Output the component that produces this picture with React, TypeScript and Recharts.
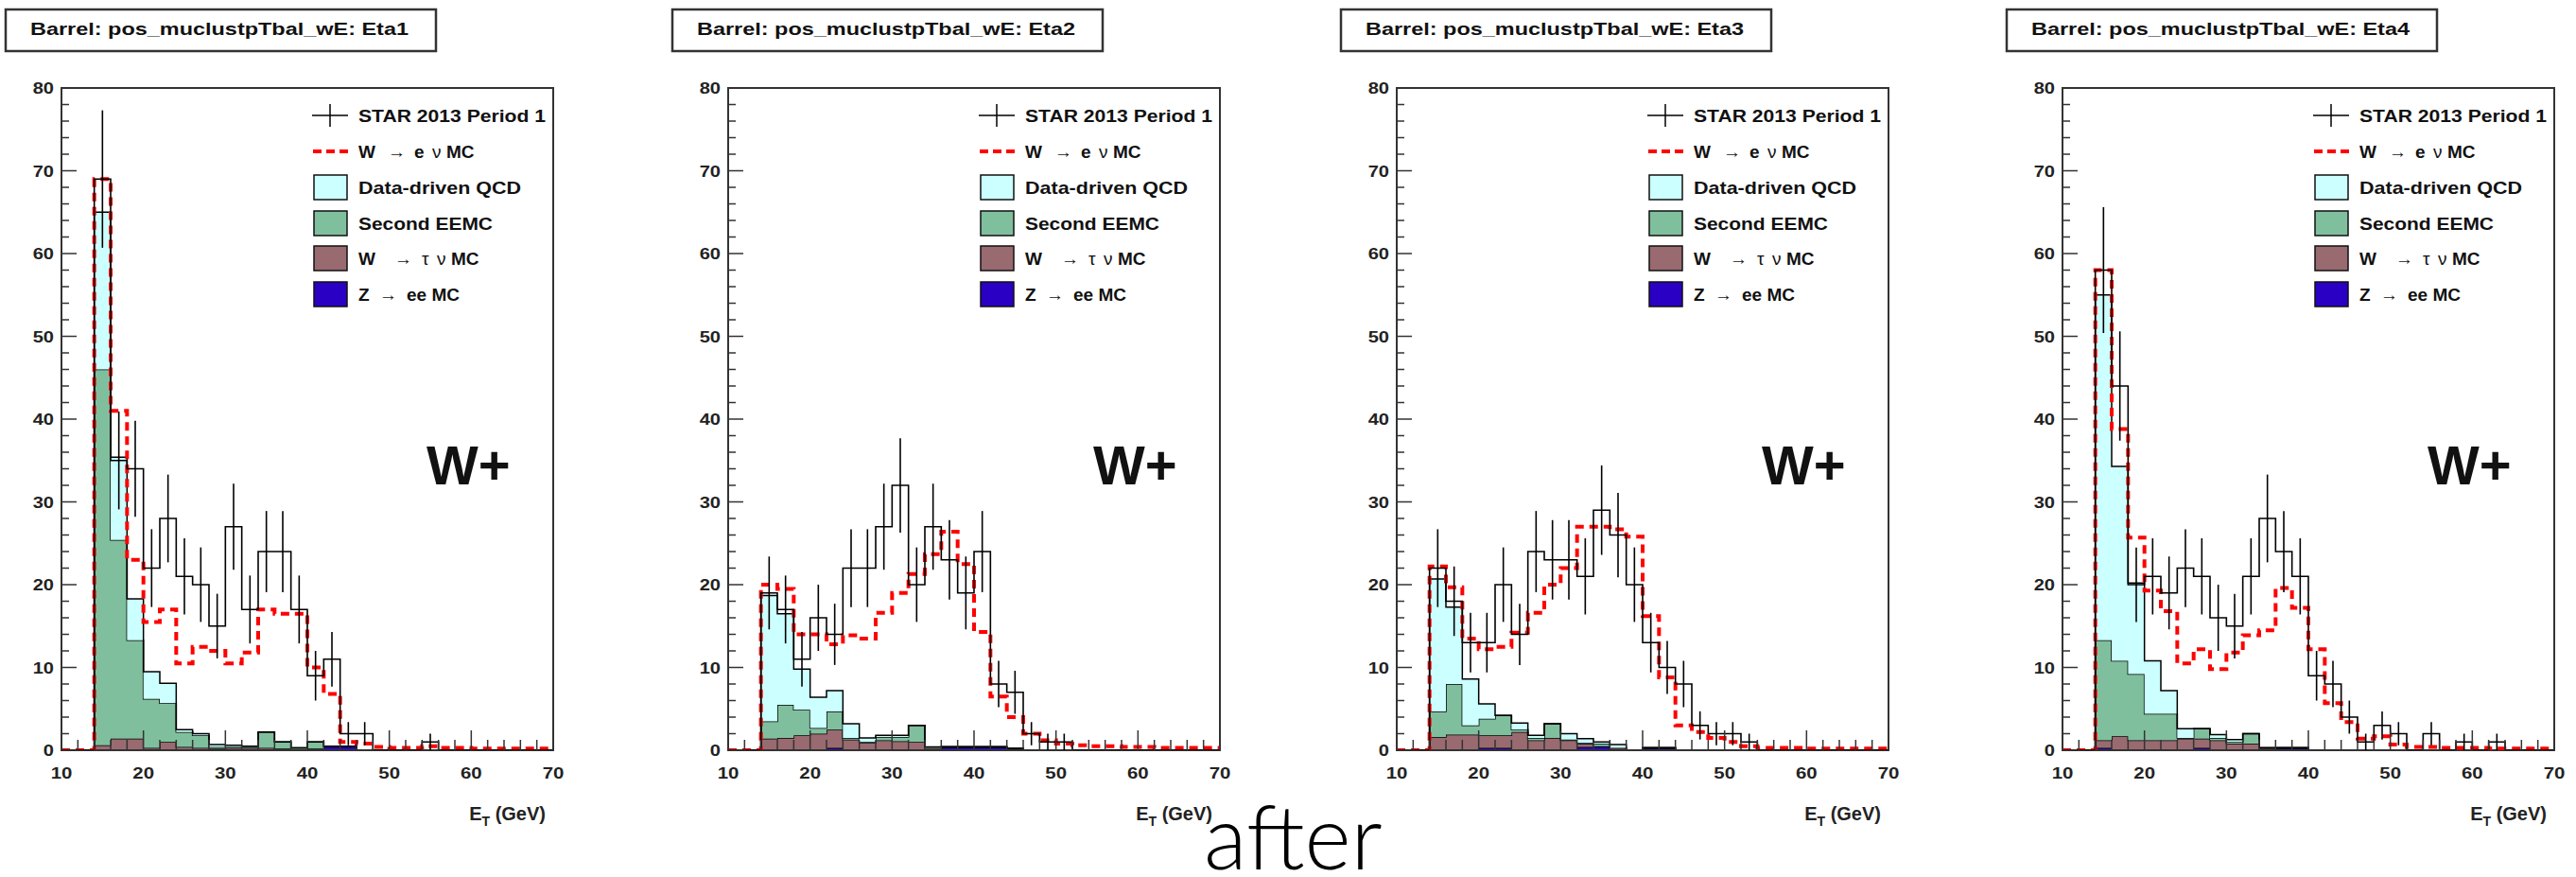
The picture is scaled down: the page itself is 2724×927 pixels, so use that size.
import React from "react";
import {
  ComposedChart,
  Area,
  Line,
  Scatter,
  ErrorBar,
  XAxis,
  YAxis,
  ReferenceArea,
} from "recharts";

// bins are 2 GeV wide, lower edges
const binLow = [10, 12, 14, 16, 18, 20, 22, 24, 26, 28, 30, 32, 34, 36, 38, 40, 42, 44, 46, 48, 50, 52, 54, 56, 58, 60, 62, 64, 66, 68];
const xTicks = [10, 12, 14, 16, 18, 20, 22, 24, 26, 28, 30, 32, 34, 36, 38, 40, 42, 44, 46, 48, 50, 52, 54, 56, 58, 60, 62, 64, 66, 68, 70];
const yTicks = [0, 2, 4, 6, 8, 10, 12, 14, 16, 18, 20, 22, 24, 26, 28, 30, 32, 34, 36, 38, 40, 42, 44, 46, 48, 50, 52, 54, 56, 58, 60, 62, 64, 66, 68, 70, 72, 74, 76, 78, 80];

// Eta1
const data1 = [0, 0, 69, 35, 34, 22, 28, 21, 20, 15, 27, 17, 24, 24, 17, 9, 11, 2, 2, 0, 0, 0, 1, 0, 0, 0, 0, 0, 0, 0];
const err1 = [0, 0, 8.3, 5.9, 5.8, 4.7, 5.3, 4.6, 4.5, 3.9, 5.2, 4.1, 4.9, 4.9, 4.1, 3, 3.3, 1.4, 1.4, 0, 0, 0, 1, 0, 0, 0, 0, 0, 0, 0];
const wenu1 = [0, 0, 69, 41, 23, 15.5, 17, 10.5, 12.5, 12, 10.5, 11.8, 17, 16.5, 16.5, 10, 6.8, 1, 0.8, 0.4, 0.3, 0.3, 0.5, 0.3, 0.3, 0.2, 0.2, 0.2, 0.2, 0.2];
const qcd1 = [0, 0, 19, 10, 5, 3.3, 2.4, 0.3, 0.2, 0.3, 0.2, 0.1, 0, 0, 0, 0, 0, 0, 0, 0, 0, 0, 0, 0, 0, 0, 0, 0, 0, 0];
const eemc1 = [0, 0, 45.4, 24, 11.9, 5.9, 4.7, 1.8, 1.5, 0.2, 0.1, 0.1, 1.9, 0.8, 0.2, 0.8, 0, 0, 0, 0, 0, 0, 0, 0, 0, 0, 0, 0, 0, 0];
const wtau1 = [0, 0, 0.6, 1.4, 1.4, 0.3, 1.0, 0.4, 0.3, 0.2, 0.2, 0.2, 0.3, 0.2, 0.1, 0.2, 0, 0, 0, 0, 0, 0, 0, 0, 0, 0, 0, 0, 0, 0];
const zee1 = [0, 0, 0, 0, 0, 0, 0, 0, 0, 0, 0.1, 0.1, 0, 0, 0, 0, 0.5, 0.5, 0, 0, 0, 0, 0, 0, 0, 0, 0, 0, 0, 0];

// Eta2
const data2 = [0, 0, 19, 17, 11, 16, 14, 22, 22, 27, 32, 20, 27, 23, 19, 24, 8, 7, 2, 1, 1, 0, 0, 0, 0, 0, 0, 0, 0, 0];
const err2 = [0, 0, 4.4, 4.1, 3.3, 4, 3.7, 4.7, 4.7, 5.2, 5.7, 4.5, 5.2, 4.8, 4.4, 4.9, 2.8, 2.6, 1.4, 1, 1, 0, 0, 0, 0, 0, 0, 0, 0, 0];
const wenu2 = [0, 0, 20, 19.5, 14, 14, 12.8, 13.9, 13.5, 16.6, 19, 21.3, 23.7, 26.4, 22.5, 14.3, 6.5, 4, 2, 1.2, 0.8, 0.6, 0.5, 0.5, 0.4, 0.4, 0.3, 0.3, 0.3, 0.3];
const qcd2 = [0, 0, 15.2, 11, 4.9, 3.7, 2.5, 1.7, 0.5, 0.2, 0.2, 0, 0.1, 0, 0, 0, 0, 0, 0, 0, 0, 0, 0, 0, 0, 0, 0, 0, 0, 0];
const eemc2 = [0, 0, 2.1, 4.0, 3.1, 0.7, 2.2, 0.2, 0.1, 0.4, 0.5, 2.0, 0, 0, 0, 0, 0, 0, 0, 0, 0, 0, 0, 0, 0, 0, 0, 0, 0, 0];
const wtau2 = [0, 0, 1.4, 1.5, 1.8, 2.0, 2.2, 1.3, 0.9, 1.2, 1.1, 1.0, 0.3, 0, 0, 0, 0, 0, 0, 0, 0, 0, 0, 0, 0, 0, 0, 0, 0, 0];
const zee2 = [0, 0, 0, 0, 0, 0, 0.3, 0, 0, 0, 0, 0, 0, 0.4, 0.4, 0.4, 0.4, 0.2, 0, 0, 0, 0, 0, 0, 0, 0, 0, 0, 0, 0];

// Eta3
const data3 = [0, 0, 22, 18, 13, 13, 20, 14, 24, 23, 23, 21, 29, 26, 20, 13, 10, 8, 3, 2, 2, 1, 0, 0, 0, 0, 0, 0, 0, 0];
const err3 = [0, 0, 4.7, 4.2, 3.6, 3.6, 4.5, 3.7, 4.9, 4.8, 4.8, 4.6, 5.4, 5.1, 4.5, 3.6, 3.2, 2.8, 1.7, 1.4, 1.4, 1, 0, 0, 0, 0, 0, 0, 0, 0];
const wenu3 = [0, 0, 22.2, 19.7, 13.5, 12.2, 12.5, 14.2, 16.6, 20, 22, 27, 27, 26.7, 25.8, 16.2, 8.8, 3, 2.2, 1.5, 1, 0.5, 0.3, 0.3, 0.3, 0.2, 0.2, 0.2, 0.2, 0.2];
const qcd3 = [0, 0, 16, 9.3, 5.6, 1.8, 0, 0.8, 0.3, 0, 0.7, 0.5, 0.2, 0.4, 0, 0, 0, 0, 0, 0, 0, 0, 0, 0, 0, 0, 0, 0, 0, 0];
const eemc3 = [0, 0, 3.1, 6.1, 1.1, 2.0, 2.4, 0.3, 0.3, 1.7, 0.1, 0.1, 0.3, 0, 0, 0, 0, 0, 0, 0, 0, 0, 0, 0, 0, 0, 0, 0, 0, 0];
const wtau3 = [0, 0, 1.6, 1.9, 1.9, 1.5, 1.5, 2.2, 1.2, 1.5, 1.2, 0.4, 0, 0.3, 0, 0, 0, 0, 0, 0, 0, 0, 0, 0, 0, 0, 0, 0, 0, 0];
const zee3 = [0, 0, 0, 0, 0, 0.3, 0.3, 0, 0, 0, 0, 0.4, 0.5, 0, 0, 0.3, 0.3, 0, 0, 0, 0, 0, 0, 0, 0, 0, 0, 0, 0, 0];

// Eta4
const data4 = [0, 0, 58, 44, 20, 21, 19, 22, 21, 16, 15, 21, 28, 24, 21, 9, 8, 4, 1, 3, 2, 0, 2, 0, 1, 0, 1, 0, 0, 0];
const err4 = [0, 0, 7.6, 6.6, 4.5, 4.6, 4.4, 4.7, 4.6, 4, 3.9, 4.6, 5.3, 4.9, 4.6, 3, 2.8, 2, 1, 1.7, 1.4, 0, 1.4, 0, 1, 0, 1, 0, 0, 0];
const wenu4 = [0, 0, 58, 38.8, 25.7, 19.3, 16.8, 10.5, 12.2, 9.8, 11.8, 13.9, 14.5, 19.6, 17.2, 12.2, 5.7, 3.4, 1.4, 1.7, 0.7, 0.4, 0.4, 0.3, 0.3, 0.3, 0.2, 0.2, 0.2, 0.2];
const qcd4 = [0, 0, 41.7, 23.5, 11, 6.4, 2.8, 1.1, 0, 0.4, 0.3, 0, 0, 0, 0, 0, 0, 0, 0, 0, 0, 0, 0, 0, 0, 0, 0, 0, 0, 0];
const eemc4 = [0, 0, 12.1, 9.1, 8, 3.2, 3.2, 0.1, 1.2, 0.3, 0.2, 1.2, 0, 0, 0, 0, 0, 0, 0, 0, 0, 0, 0, 0, 0, 0, 0, 0, 0, 0];
const wtau4 = [0, 0, 0.9, 1.7, 1.2, 1.2, 1.2, 1.4, 1.1, 1.2, 0.8, 0.8, 0.3, 0, 0, 0, 0, 0, 0, 0, 0, 0, 0, 0, 0, 0, 0, 0, 0, 0];
const zee4 = [0, 0, 0.3, 0, 0, 0, 0, 0, 0.3, 0, 0, 0, 0, 0.3, 0.3, 0, 0, 0, 0, 0, 0, 0, 0, 0, 0, 0, 0, 0, 0, 0];

const titles = [
  "Barrel: pos_muclustpTbal_wE: Eta1",
  "Barrel: pos_muclustpTbal_wE: Eta2",
  "Barrel: pos_muclustpTbal_wE: Eta3",
  "Barrel: pos_muclustpTbal_wE: Eta4",
];

const panels = [
  { title: titles[0], data: data1, err: err1, wenu: wenu1, qcd: qcd1, eemc: eemc1, wtau: wtau1, zee: zee1 },
  { title: titles[1], data: data2, err: err2, wenu: wenu2, qcd: qcd2, eemc: eemc2, wtau: wtau2, zee: zee2 },
  { title: titles[2], data: data3, err: err3, wenu: wenu3, qcd: qcd3, eemc: eemc3, wtau: wtau3, zee: zee3 },
  { title: titles[3], data: data4, err: err4, wenu: wenu4, qcd: qcd4, eemc: eemc4, wtau: wtau4, zee: zee4 },
];

const PANEL_LEFT = [0, 705, 1412, 2116];
const W = 608;
const H = 927;
const PLOT_LEFT = 65;
const PLOT_BOTTOM = 793;
const FONT = '"Liberation Sans", Arial, Helvetica, sans-serif';
const AXIS = "#333";

const C_QCD = "#ccffff";
const C_EEMC = "#80bf9d";
const C_WTAU = "#996a70";
const C_ZEE = "#2a00c4";
const C_RED = "#ff0000";

function XTick(props: any) {
  const { x, payload } = props;
  const v = payload.value;
  const major = v % 10 === 0;
  return (
    <g>
      <line x1={x} x2={x} y1={PLOT_BOTTOM} y2={PLOT_BOTTOM - (major ? 21 : 11)} stroke={AXIS} strokeWidth={1.5} />
      {major && (
        <text
          transform={`translate(${x},823) scale(1.2,1)`}
          textAnchor="middle"
          fontSize={17}
          fontWeight="bold"
          fontFamily={FONT}
          fill="#222"
        >
          {v}
        </text>
      )}
    </g>
  );
}

function YTick(props: any) {
  const { y, payload } = props;
  const v = payload.value;
  const major = v % 10 === 0;
  return (
    <g>
      <line x1={PLOT_LEFT} x2={PLOT_LEFT + (major ? 16 : 8)} y1={y} y2={y} stroke={AXIS} strokeWidth={1.5} />
      {major && (
        <text
          transform={`translate(57,${y + 6}) scale(1.18,1)`}
          textAnchor="end"
          fontSize={17}
          fontWeight="bold"
          fontFamily={FONT}
          fill="#222"
        >
          {v}
        </text>
      )}
    </g>
  );
}

const NoShape = () => <g />;

function Legend() {
  const rows = [122, 160, 198, 236, 273, 311];
  const sym = { fontWeight: "normal" as const, fontSize: 19 };
  const box = (y: number, fill: string) => (
    <rect x={332} y={y - 13} width={35} height={26} fill={fill} stroke="#111" strokeWidth={1.5} />
  );
  return (
    <g fontFamily={FONT} fontWeight="bold" fontSize={19} fill="#111">
      <line x1={330} x2={368} y1={rows[0]} y2={rows[0]} stroke="#000" strokeWidth={1.5} />
      <line x1={349} x2={349} y1={rows[0] - 12} y2={rows[0] + 12} stroke="#000" strokeWidth={1.5} />
      <text x={379} y={rows[0] + 7} textLength={198} lengthAdjust="spacingAndGlyphs">STAR 2013 Period 1</text>

      <line x1={331} x2={368} y1={rows[1]} y2={rows[1]} stroke={C_RED} strokeWidth={4} strokeDasharray="9 5" />
      <text y={rows[1] + 7}>
        <tspan x={379}>W</tspan>
        <tspan x={410} {...sym}>→</tspan>
        <tspan x={438}>e</tspan>
        <tspan x={457} {...sym}>ν</tspan>
        <tspan x={472}>MC</tspan>
      </text>

      {box(rows[2], C_QCD)}
      <text x={379} y={rows[2] + 7} textLength={172} lengthAdjust="spacingAndGlyphs">Data-driven QCD</text>

      {box(rows[3], C_EEMC)}
      <text x={379} y={rows[3] + 7} textLength={142} lengthAdjust="spacingAndGlyphs">Second EEMC</text>

      {box(rows[4], C_WTAU)}
      <text y={rows[4] + 7}>
        <tspan x={379}>W</tspan>
        <tspan x={417} {...sym}>→</tspan>
        <tspan x={446} {...sym}>τ</tspan>
        <tspan x={462} {...sym}>ν</tspan>
        <tspan x={477}>MC</tspan>
      </text>

      {box(rows[5], C_ZEE)}
      <text y={rows[5] + 7}>
        <tspan x={379}>Z</tspan>
        <tspan x={401} {...sym}>→</tspan>
        <tspan x={430}>ee MC</tspan>
      </text>
    </g>
  );
}

function Panel({ p, left }: { p: (typeof panels)[number]; left: number }) {
  const rows = xTicks.map((x, i) => {
    const k = Math.min(i, binLow.length - 1);
    return {
      x,
      zee: p.zee[k],
      wtau: p.wtau[k],
      eemc: p.eemc[k],
      qcd: p.qcd[k],
      wenu: p.wenu[k],
      data: p.data[k],
    };
  });
  const points = binLow
    .map((lo, i) => ({ x: lo + 1, y: p.data[i], err: p.err[i] }))
    .filter((d) => d.y > 0);

  return (
    <div style={{ position: "absolute", left, top: 0, width: W, height: H }}>
      <ComposedChart width={W} height={H} data={rows} margin={{ top: 93, right: 23, bottom: 94, left: 25 }}>
        <XAxis
          type="number"
          dataKey="x"
          domain={[10, 70]}
          ticks={xTicks}
          interval={0}
          height={40}
          axisLine={false}
          tickLine={false}
          tick={XTick}
          allowDataOverflow
        />
        <YAxis
          type="number"
          domain={[0, 80]}
          ticks={yTicks}
          interval={0}
          width={40}
          axisLine={false}
          tickLine={false}
          tick={YTick}
          allowDataOverflow
        />
        <Area type="stepAfter" dataKey="zee" stackId="bg" fill={C_ZEE} fillOpacity={1} stroke="#000" strokeWidth={1.5} isAnimationActive={false} />
        <Area type="stepAfter" dataKey="wtau" stackId="bg" fill={C_WTAU} fillOpacity={1} stroke="#000" strokeWidth={1.5} isAnimationActive={false} />
        <Area type="stepAfter" dataKey="eemc" stackId="bg" fill={C_EEMC} fillOpacity={1} stroke="#000" strokeWidth={1.5} isAnimationActive={false} />
        <Area type="stepAfter" dataKey="qcd" stackId="bg" fill={C_QCD} fillOpacity={1} stroke="#000" strokeWidth={1.5} isAnimationActive={false} />
        <Line type="stepAfter" dataKey="wenu" stroke={C_RED} strokeWidth={4} strokeDasharray="9 6" dot={false} isAnimationActive={false} />
        <Line type="stepAfter" dataKey="data" stroke="#000" strokeWidth={1.6} dot={false} isAnimationActive={false} />
        <Scatter data={points} dataKey="y" shape={NoShape} isAnimationActive={false}>
          <ErrorBar dataKey="err" direction="y" width={0} stroke="#000" strokeWidth={1.6} />
        </Scatter>
        <ReferenceArea x1={10} x2={70} y1={0} y2={80} fill="none" fillOpacity={0} stroke={AXIS} strokeWidth={2} ifOverflow="visible" />
      </ComposedChart>
      <svg width={W} height={H} style={{ position: "absolute", left: 0, top: 0, pointerEvents: "none" }}>
        <rect x={6} y={10} width={455} height={44} fill="#fff" stroke={AXIS} strokeWidth={2.5} />
        <text x={32} y={37} fontFamily={FONT} fontWeight="bold" fontSize={18} fill="#111" textLength={400} lengthAdjust="spacingAndGlyphs">
          {p.title}
        </text>
        <Legend />
        <text x={451} y={512} fontFamily={FONT} fontWeight="bold" fontSize={58} fill="#111">
          W+
        </text>
        <text x={577} y={867} textAnchor="end" fontFamily={FONT} fontWeight="bold" fontSize={20} fill="#222">
          E
          <tspan fontSize={14} dy={6}>T</tspan>
          <tspan dy={-6}> (GeV)</tspan>
        </text>
      </svg>
    </div>
  );
}

export default function App() {
  return (
    <div
      style={{
        position: "absolute",
        left: 0,
        top: 0,
        width: 2724,
        height: 927,
        overflow: "hidden",
        background: "#fff",
      }}
    >
      {panels.map((p, i) => (
        <Panel key={i} p={p} left={PANEL_LEFT[i]} />
      ))}
      <svg width={2724} height={927} style={{ position: "absolute", left: 0, top: 0, pointerEvents: "none" }}>
        <text x={1273} y={919} fontFamily="Lato, Roboto, 'Open Sans', sans-serif" fontWeight={300} fontSize={94} fill="#000">
          after
        </text>
      </svg>
    </div>
  );
}
